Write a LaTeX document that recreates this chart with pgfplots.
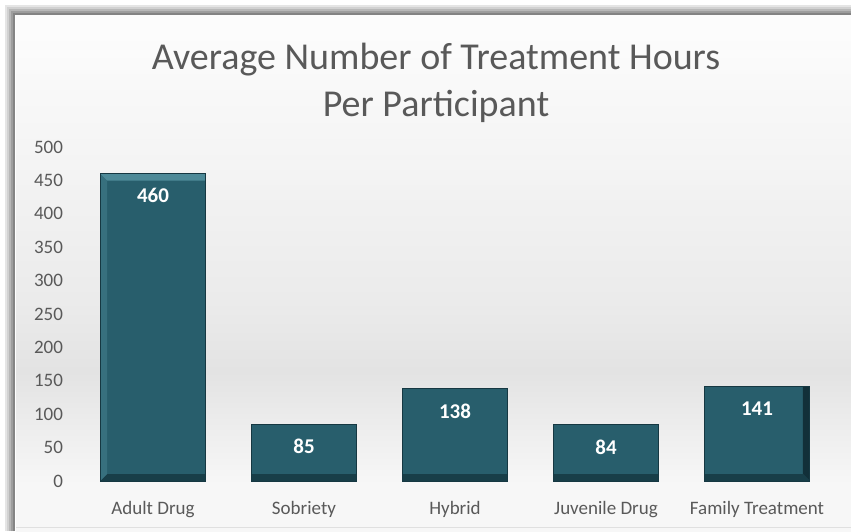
\documentclass[border=0pt]{standalone}
\usepackage{fontspec}
\setmainfont{Carlito}
\usepackage{pgfplots}
\pgfplotsset{compat=1.18}
\definecolor{txt}{RGB}{89,89,89}
\definecolor{barfill}{RGB}{40,94,108}
\definecolor{bardraw}{RGB}{22,56,66}
\definecolor{bevtop}{RGB}{78,138,152}
\definecolor{bevleft}{RGB}{55,112,126}
\definecolor{bevright}{RGB}{18,48,57}
\definecolor{bevbot}{RGB}{24,62,72}
\pgfdeclareverticalshading{bgshade}{100bp}{color(0bp)=(black!3); color(25bp)=(black!3); color(29.3bp)=(black!3); color(33.6bp)=(black!6); color(40.4bp)=(black!11); color(46.8bp)=(black!8); color(61.8bp)=(black!4); color(73.8bp)=(black!1); color(75bp)=(black!1); color(100bp)=(black!1)}
\tikzset{bevel/.style={path picture={
  \pgftransformreset
  \path[path picture={}] (path picture bounding box.south west) coordinate (bsw) (path picture bounding box.north east) coordinate (bne);
  \def\b{7pt}
  \fill[bevtop,path picture={},draw=none] (bsw|-bne) -- (bne) -- ([xshift=-\b,yshift=-\b]bne) -- ([xshift=\b,yshift=-\b]bsw|-bne) -- cycle;
  \fill[bevright,path picture={},draw=none] (bne) -- (bne|-bsw) -- ([xshift=-\b,yshift=\b]bne|-bsw) -- ([xshift=-\b,yshift=-\b]bne) -- cycle;
  \fill[bevbot,path picture={},draw=none] (bne|-bsw) -- (bsw) -- ([xshift=\b,yshift=\b]bsw) -- ([xshift=-\b,yshift=\b]bne|-bsw) -- cycle;
  \fill[bevleft,path picture={},draw=none] (bsw) -- (bsw|-bne) -- ([xshift=\b,yshift=-\b]bsw|-bne) -- ([xshift=\b,yshift=\b]bsw) -- cycle;
}}}
\begin{document}
\begin{tikzpicture}[x=1pt,y=1pt]
\useasboundingbox (0,0) rectangle (851,531);
\fill[white] (0,0) rectangle (851,531);
\shade[shading=bgshade] (16,0) rectangle (851,518);
\draw[black!12,line width=1pt] (16,4) -- (851,4);
% frame shadow
\foreach \i/\o in {0/0.10,1/0.18,2/0.28,3/0.38,4/0.48} {
  \draw[black,opacity=\o,line width=1.2pt] (6+2*\i,0) -- (6+2*\i,525-2*\i) -- (851,525-2*\i);
}
\node[anchor=base,text=txt,font=\fontsize{38}{42}\selectfont] at (436,461) {Average Number of Treatment Hours};
\node[anchor=base,text=txt,font=\fontsize{38}{42}\selectfont] at (436,414) {Per Participant};
\begin{axis}[
  at={(153pt,50pt)}, anchor=origin,
  scale only axis, width=755pt, height=334pt,
  xmin=-0.5, xmax=4.5, ymin=0, ymax=500,
  ytick={0,50,...,500},
  xtick=data,
  xticklabels={Adult Drug,Sobriety,Hybrid,Juvenile Drug,Family Treatment},
  axis line style={draw=none},
  major tick length=0pt,
  tick label style={text=txt,font=\fontsize{19}{22}\selectfont},
  /pgf/number format/assume math mode=true,
  yticklabel style={xshift=-11pt},
  xticklabel style={yshift=-17pt},
  ybar, bar width=0.70,
  nodes near coords,
  every node near coord/.append style={path picture={},anchor=north,yshift=-11pt,text=white,font=\fontsize{21}{23}\selectfont\bfseries},
  clip=false,
]
\addplot[fill=barfill,draw=bardraw,line width=0.8pt,bevel] coordinates {(0,460) (1,85) (2,138) (3,84) (4,141)};
\end{axis}
\end{tikzpicture}
\end{document}
